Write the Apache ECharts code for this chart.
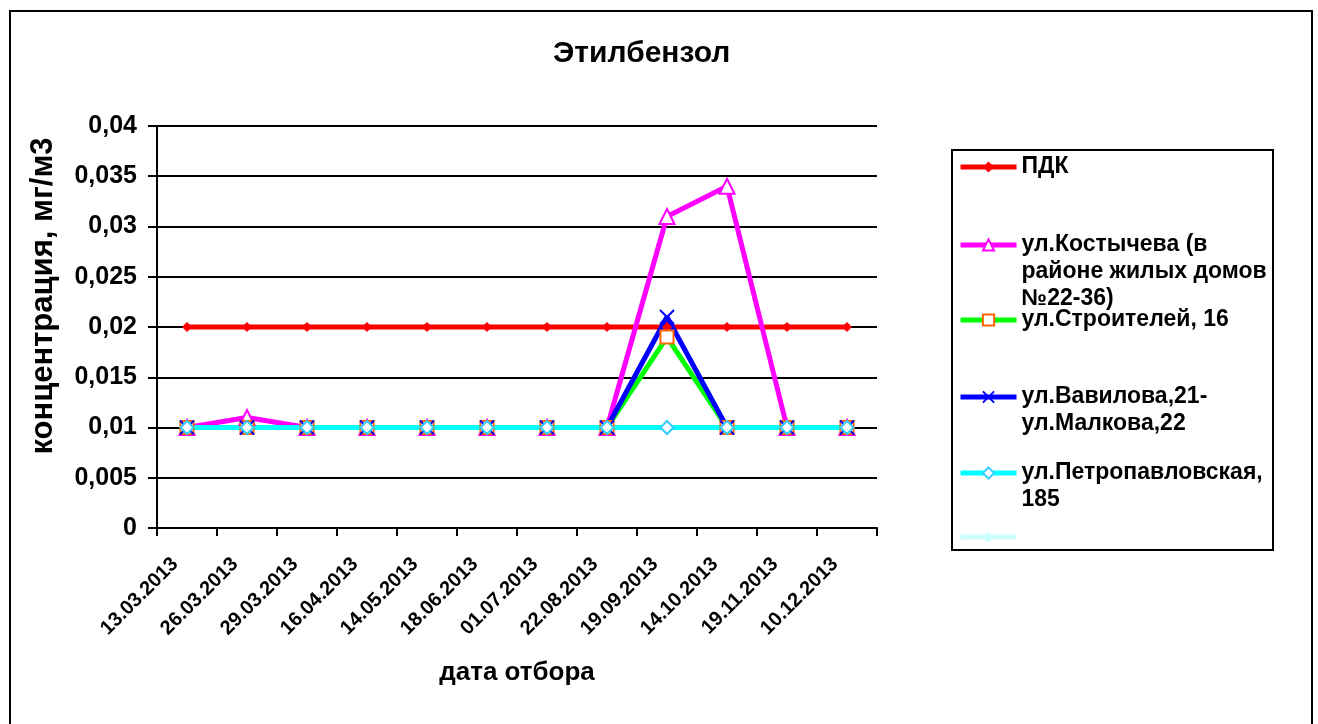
<!DOCTYPE html>
<html>
<head>
<meta charset="utf-8">
<script src="https://cdn.jsdelivr.net/npm/echarts@6/dist/echarts.min.js"></script>
<style>html,body{margin:0;padding:0;background:#fff;}#c{width:1318px;height:724px;}</style>
</head>
<body>
<div id="c"></div>
<script>
const categories = ['13.03.2013','26.03.2013','29.03.2013','16.04.2013','14.05.2013','18.06.2013','01.07.2013','22.08.2013','19.09.2013','14.10.2013','19.11.2013','10.12.2013'];
const seriesNames = ['ПДК','ул.Костычева (в районе жилых домов №22-36)','ул.Строителей, 16','ул.Вавилова,21-ул.Малкова,22','ул.Петропавловская, 185',' '];
const legendLabels = [['ПДК'],['ул.Костычева (в','районе жилых домов','№22-36)'],['ул.Строителей, 16'],['ул.Вавилова,21-','ул.Малкова,22'],['ул.Петропавловская,','185'],['']];
const pdk =        [0.02,0.02,0.02,0.02,0.02,0.02,0.02,0.02,0.02,0.02,0.02,0.02];
const kostycheva = [0.01,0.011,0.01,0.01,0.01,0.01,0.01,0.01,0.031,0.034,0.01,0.01];
const stroiteley = [0.01,0.01,0.01,0.01,0.01,0.01,0.01,0.01,0.019,0.01,0.01,0.01];
const vavilova =   [0.01,0.01,0.01,0.01,0.01,0.01,0.01,0.01,0.021,0.01,0.01,0.01];
const petropavl =  [0.01,0.01,0.01,0.01,0.01,0.01,0.01,0.01,0.01,0.01,0.01,0.01];
const sixth = [];
const yTickLabels = ['0','0,005','0,01','0,015','0,02','0,025','0,03','0,035','0,04'];

const FONT = 'Arial, "Liberation Sans", sans-serif';
const chart = echarts.init(document.getElementById('c'));

const LH = 27;
const legendIconY = [167, 245, 320, 397, 473, 545];
const legends = seriesNames.map((n, i) => {
  const lines = legendLabels[i];
  const total = 2 * lines.length - 1;
  return {
    orient: 'vertical', left: 958, top: legendIconY[i] - total * LH / 2, padding: 0,
    itemWidth: 56, itemHeight: 14, itemGap: 0,
    data: [n], selectedMode: false,
    lineStyle: { width: 5 },
    formatter: () => '\n'.repeat(lines.length - 1) + lines.join('\n'),
    textStyle: { fontFamily: FONT, fontWeight: 'bold', fontSize: 23, color: '#000', lineHeight: LH }
  };
});

const option = {
  animation: false,
  backgroundColor: '#fff',
  title: { text: 'Этилбензол', left: 548, top: 34, textStyle: { fontFamily: FONT, fontWeight: 'bold', fontSize: 30, color: '#000' } },
  graphic: [
    { type: 'rect', shape: { x: 10, y: 11, width: 1302, height: 730 }, style: { fill: 'none', stroke: '#000', lineWidth: 2 }, silent: true, z: -1 },
    { type: 'rect', shape: { x: 952, y: 150, width: 321, height: 400 }, style: { fill: 'none', stroke: '#000', lineWidth: 2 }, silent: true, z: -1 }
  ],
  legend: legends,
  grid: { left: 157, right: 441, top: 126, bottom: 196, containLabel: false },
  xAxis: {
    type: 'category', data: categories, boundaryGap: true,
    name: 'дата отбора', nameLocation: 'middle', nameGap: 132,
    nameTextStyle: { fontFamily: FONT, fontWeight: 'bold', fontSize: 26, color: '#000' },
    axisLine: { lineStyle: { color: '#000', width: 2 } },
    axisTick: { show: true, length: 8, alignWithLabel: false, lineStyle: { color: '#000', width: 2 } },
    axisLabel: { rotate: 45, margin: 21, interval: 0, padding: [0, 17, 0, 0], fontFamily: FONT, fontWeight: 'bold', fontSize: 20, color: '#000' },
    splitLine: { show: false }
  },
  yAxis: {
    type: 'value', min: 0, max: 0.04, interval: 0.005,
    name: 'концентрация, мг/м3', nameLocation: 'middle', nameGap: 98,
    nameTextStyle: { fontFamily: FONT, fontWeight: 'bold', fontSize: 31, color: '#000', padding: [0, 0, 0, 62] },
    axisLine: { show: true, lineStyle: { color: '#000', width: 2 } },
    axisTick: { show: true, inside: false, length: 9, lineStyle: { color: '#000', width: 2 } },
    axisLabel: { margin: 20, fontFamily: FONT, fontWeight: 'bold', fontSize: 25, color: '#000',
      formatter: (v) => yTickLabels[Math.round(v / 0.005)] },
    splitLine: { show: true, lineStyle: { color: '#000', width: 2 } }
  },
  series: [
    { name: seriesNames[0], type: 'line', data: pdk, symbol: 'diamond', symbolSize: 10,
      itemStyle: { color: '#FF0000' }, lineStyle: { color: '#FF0000', width: 5 } },
    { name: seriesNames[1], type: 'line', data: kostycheva, symbol: 'emptyTriangle', symbolSize: 15,
      itemStyle: { color: '#FF00FF', borderColor: '#FF00FF', borderWidth: 2 }, lineStyle: { color: '#FF00FF', width: 5 } },
    { name: seriesNames[2], type: 'line', data: stroiteley, symbol: 'emptyRect', symbolSize: 13,
      itemStyle: { color: '#FF6600', borderColor: '#FF6600', borderWidth: 2 }, lineStyle: { color: '#00FF00', width: 5 } },
    { name: seriesNames[3], type: 'line', data: vavilova, symbol: 'path://M0 0L10 10M10 0L0 10', symbolSize: 14,
      itemStyle: { color: '#0000FF', borderColor: '#0000FF', borderWidth: 2 }, lineStyle: { color: '#0000FF', width: 5 } },
    { name: seriesNames[4], type: 'line', data: petropavl, symbol: 'emptyDiamond', symbolSize: 13,
      itemStyle: { color: '#33CCFF', borderColor: '#33CCFF', borderWidth: 2 }, lineStyle: { color: '#00FFFF', width: 5 } },
    { name: seriesNames[5], type: 'line', data: sixth, symbol: 'diamond', symbolSize: 13,
      itemStyle: { color: '#CCFFFF' }, lineStyle: { color: '#CCFFFF', width: 5 } }
  ]
};
chart.setOption(option);
</script>
</body>
</html>
